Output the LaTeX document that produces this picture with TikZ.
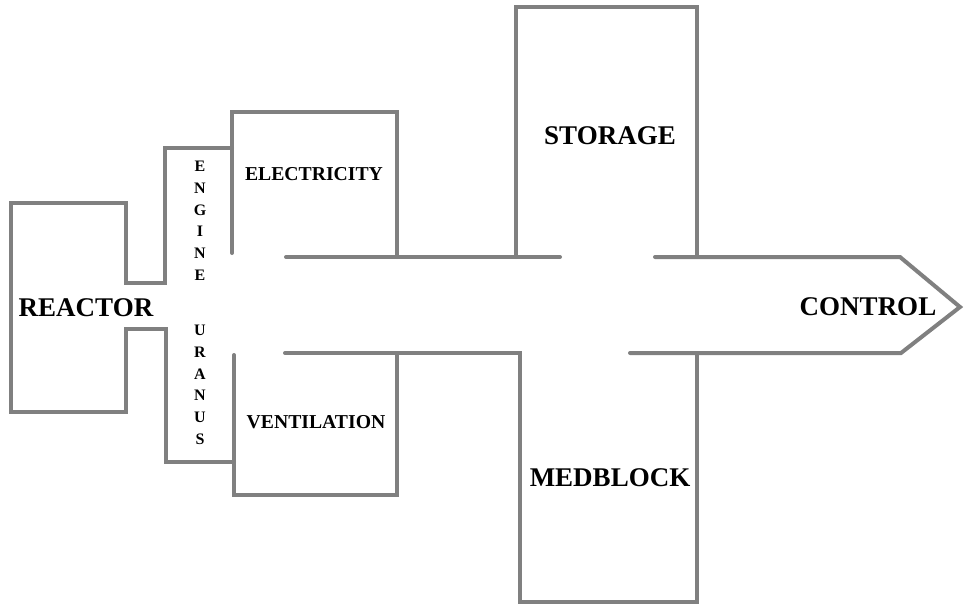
\documentclass[tikz,border=0pt]{standalone}
\usepackage{fontspec}
\setmainfont{Liberation Serif}
\begin{document}
\begin{tikzpicture}[x=1pt,y=-1pt,
  wall/.style={draw, color={rgb,255:red,128;green,128;blue,128}, line width=4pt, line cap=round, line join=miter},
  bigtxt/.style={font=\bfseries\fontsize{27}{30}\selectfont, inner sep=0pt},
  midtxt/.style={font=\bfseries\fontsize{19.7}{22}\selectfont, inner sep=0pt},
  vtxt/.style={font=\bfseries\fontsize{16}{21.7}\selectfont, inner sep=0pt, align=center}]
\useasboundingbox (0,0) rectangle (967,608);
% walls
\draw[wall] (232,148) -- (165,148) -- (165,283) -- (126,283) -- (126,203) -- (11,203) -- (11,412) -- (126,412) -- (126,329) -- (166,329) -- (166,462) -- (234,462);
\draw[wall] (232,253) -- (232,112) -- (397,112) -- (397,257);
\draw[wall] (286,257) -- (560,257);
\draw[wall] (516,257) -- (516,7) -- (697,7) -- (697,257);
\draw[wall] (655,257) -- (900,257) -- (960,307) -- (901,353) -- (630,353);
\draw[wall] (285,353) -- (520,353) -- (520,602) -- (697,602) -- (697,353);
\draw[wall] (234,355) -- (234,495) -- (397,495) -- (397,353);
% labels
\node[bigtxt] (reactor) at (86,308) {REACTOR};
\node[bigtxt] (storage) at (610,136) {STORAGE};
\node[bigtxt] (medblock) at (610,478) {MEDBLOCK};
\node[bigtxt] (control) at (868,307) {CONTROL};
\node[midtxt] (elec) at (314,174) {ELECTRICITY};
\node[midtxt] (vent) at (316,422) {VENTILATION};
\node[vtxt, anchor=north] (engine) at (200,161) {E\\N\\G\\I\\N\\E};
\node[vtxt, anchor=north] (uranus) at (200,325) {U\\R\\A\\N\\U\\S};
\end{tikzpicture}
\end{document}
